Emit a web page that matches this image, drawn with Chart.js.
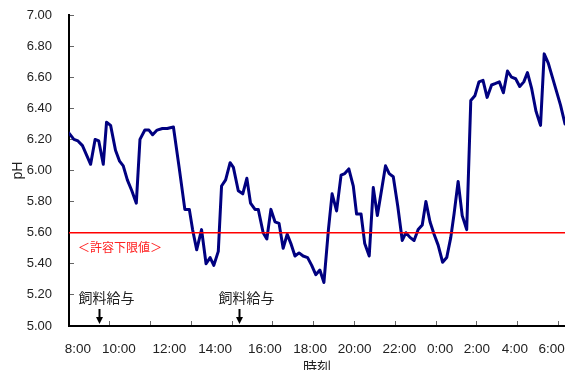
<!DOCTYPE html>
<html><head><meta charset="utf-8">
<script src="https://cdn.jsdelivr.net/npm/chart.js@4"></script>
<style>html,body{margin:0;padding:0;background:#fff}</style>
</head><body>
<canvas id="c" width="565" height="370"></canvas>
<script>
// sample position along the time axis (one unit = one sample), and pH readings
const samplePos = [0,1.2,2.2,3.3,5.3,6.4,7.3,8.4,9.2,10.2,
  11.4,12.4,13.3,14.3,15.4,16.5,17.4,18.6,19.6,20.5,
  21.6,22.9,24.1,25.6,27.0,28.4,29.5,30.3,31.3,32.5,
  33.6,34.6,35.5,36.6,37.4,38.4,39.5,40.3,41.5,42.6,
  43.6,44.5,45.6,46.4,47.6,48.5,49.5,50.5,51.5,52.5,
  53.5,54.4,55.4,56.4,57.4,58.5,59.5,60.5,61.5,62.5,
  63.6,64.5,65.6,66.7,67.6,68.6,69.7,70.5,71.6,72.5,
  73.6,74.6,75.6,76.6,77.6,78.5,79.5,80.6,81.7,82.6,
  83.6,84.6,85.6,86.6,87.5,88.5,89.5,90.5,91.6,92.6,
  93.6,94.4,95.4,96.4,97.5,98.5,99.5,100.5,101.5,102.5,
  103.6,104.6,105.5,106.5,107.5,108.5,109.5,110.5,111.5,112.4,
  113.4,114.5,115.6,116.5,117.5,118.5,119.5,120.5,121.6];
const ph = [6.24,6.20,6.19,6.16,6.04,6.20,6.19,6.04,6.31,6.29,
  6.13,6.06,6.03,5.94,5.87,5.79,6.20,6.26,6.26,6.23,
  6.26,6.27,6.27,6.28,6.02,5.75,5.75,5.62,5.49,5.62,
  5.40,5.44,5.39,5.48,5.90,5.94,6.05,6.02,5.87,5.85,
  5.95,5.79,5.75,5.75,5.60,5.56,5.75,5.67,5.66,5.50,
  5.59,5.53,5.45,5.47,5.45,5.44,5.39,5.33,5.36,5.28,
  5.62,5.85,5.74,5.97,5.98,6.01,5.90,5.72,5.72,5.53,
  5.45,5.89,5.71,5.87,6.03,5.98,5.96,5.77,5.55,5.60,
  5.57,5.55,5.62,5.65,5.80,5.67,5.59,5.52,5.41,5.44,
  5.57,5.72,5.93,5.71,5.62,6.45,6.48,6.57,6.58,6.47,
  6.55,6.56,6.57,6.50,6.64,6.60,6.59,6.54,6.57,6.63,
  6.53,6.38,6.29,6.75,6.69,6.60,6.51,6.42,6.30];
const tickLabels = ['8:00','10:00','12:00','14:00','16:00','18:00','20:00','22:00','0:00','2:00','4:00','6:00'];
const labelPos = [2.2,12.25,24.6,35.8,48.0,59.1,70.0,81.0,91.0,100.0,109.3,118.3];
const tickMarks = [10,20,30,40,50,60,70,80,90,100,110,120];
const xMax = 121.6;
const limitValue = 5.6;
const limitText = '＜許容下限値＞';
const feedPos = [7.4, 41.6];
const feedText = '飼料給与';

const NUM_FONT = "'Liberation Sans', Arial, sans-serif";
const JP_FONT = "'Noto Sans CJK JP', sans-serif";

const annot = {
  id: 'annot',
  afterDatasetsDraw(chart) {
    const {ctx, scales: {x, y}} = chart;
    ctx.save();
    ctx.fillStyle = '#ff2020';
    ctx.font = '12px ' + JP_FONT;
    ctx.textAlign = 'left';
    ctx.textBaseline = 'middle';
    ctx.fillText(limitText, x.getPixelForValue(2.2), y.getPixelForValue(5.505));
    const base = y.getPixelForValue(5.0);
    feedPos.forEach(v => {
      const px = Math.round(x.getPixelForValue(v)) + 0.5;
      ctx.fillStyle = '#222';
      ctx.font = '14px ' + JP_FONT;
      ctx.textAlign = 'center';
      ctx.fillText(feedText, px + 7, base - 28);
      ctx.strokeStyle = '#000';
      ctx.fillStyle = '#000';
      ctx.lineWidth = 2;
      ctx.beginPath(); ctx.moveTo(px, base - 17); ctx.lineTo(px, base - 8); ctx.stroke();
      ctx.beginPath(); ctx.moveTo(px - 3.5, base - 9); ctx.lineTo(px + 3.5, base - 9); ctx.lineTo(px, base - 2); ctx.closePath(); ctx.fill();
    });
    ctx.restore();
  }
};

new Chart(document.getElementById('c'), {
  type: 'line',
  data: {
    datasets: [
      {label: 'limit', data: [{x: 0, y: limitValue}, {x: xMax, y: limitValue}],
       borderColor: '#ff0000', borderWidth: 1.5, pointRadius: 0},
      {label: 'pH', data: samplePos.map((v, i) => ({x: v, y: ph[i]})),
       borderColor: '#000080', borderWidth: 3, pointRadius: 0, tension: 0,
       borderJoinStyle: 'round', borderCapStyle: 'round'}
    ]
  },
  options: {
    responsive: false, animation: false, devicePixelRatio: 1,
    layout: {padding: {top: 15, left: 0, right: 0, bottom: 0}},
    plugins: {legend: {display: false}, tooltip: {enabled: false}},
    scales: {
      x: {
        type: 'linear', min: 0, max: xMax,
        afterBuildTicks(s) {
          const t = tickMarks.map(v => ({value: v, mark: true}))
            .concat(labelPos.map((v, i) => ({value: v, lbl: tickLabels[i]})));
          t.sort((a, b) => a.value - b.value);
          s.ticks = t;
        },
        afterFit(s) { s.height = 44; s.paddingLeft = 0; s.paddingRight = 0; },
        ticks: {autoSkip: false, maxRotation: 0, padding: 20, color: '#222',
          font: {family: NUM_FONT, size: 13.5},
          callback: (v, i, t) => (t[i] && t[i].lbl) || ''},
        grid: {drawOnChartArea: false, drawTicks: true, tickLength: -5, lineWidth: 1,
          tickColor: c => (c.tick && c.tick.mark) ? '#666' : 'rgba(0,0,0,0)'},
        border: {color: '#000', width: 2},
        title: {display: true, text: '時刻', color: '#222', font: {family: JP_FONT, size: 14},
          padding: {top: 0, bottom: -5}}
      },
      y: {
        min: 5, max: 7,
        afterFit(s) { s.width = 69; s.paddingTop = 0; s.paddingBottom = 0; },
        ticks: {stepSize: 0.2, padding: 22, color: '#222', font: {family: NUM_FONT, size: 13},
          callback: v => v.toFixed(2)},
        grid: {drawOnChartArea: false, drawTicks: true, tickLength: -5, lineWidth: 1, tickColor: '#666'},
        border: {color: '#000', width: 2},
        title: {display: true, text: 'pH', color: '#222', font: {family: NUM_FONT, size: 14},
          padding: {top: 10, bottom: 0}}
      }
    }
  },
  plugins: [annot]
});
</script>
</body></html>
